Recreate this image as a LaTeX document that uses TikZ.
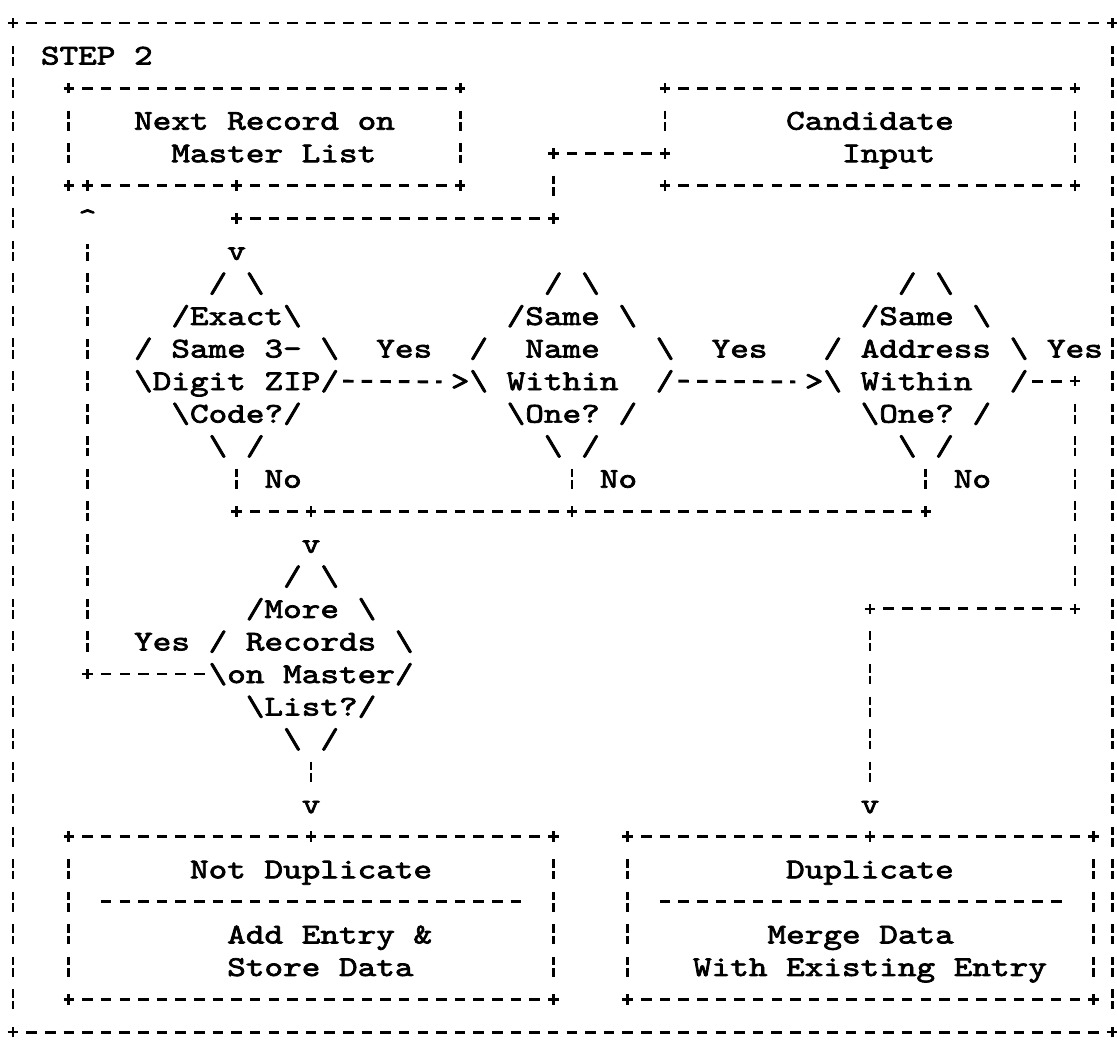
\documentclass[tikz,border=0pt]{standalone}
\usepackage{fontspec}
\newfontfamily\printfont{lmmono10-regular.otf}[FakeBold=2.5, FakeStretch=1.2376]
\begin{document}
\begin{tikzpicture}[x={(13.9725pt,0pt)}, y={(0pt,-24.4125pt)}]
\tikzset{
  chr/.style={font=\printfont\fontsize{21.5pt}{24.41pt}\selectfont, inner sep=0pt, outer sep=0pt},
  % a run of hyphens between two cells
  hrun/.style={line width=2.2pt, dash pattern=on 7.9pt off 6.07pt, dash phase=10.935pt,
               shorten <=6.986pt, shorten >=6.986pt},
  % a run of broken bars between two cells
  vrun/.style={line width=2.1pt, dash pattern=on 6.4pt off 2.25pt on 6.4pt off 9.36pt,
               dash phase=19.73pt, shorten <=12.206pt, shorten >=12.206pt},
  plus/.pic={\draw[line width=2.1pt] (-4pt,0pt) -- (4pt,0pt) (0pt,-4pt) -- (0pt,4pt);}
}
% glyph in a cell, text from a cell, junction mark
\newcommand\ch[3]{\node[chr,anchor=base] at (#1,#2+0.277) {#3};}
\newcommand\chn[4]{\node[chr,anchor=base] (#1) at (#2,#3+0.277) {#4};}
\newcommand\tx[4]{\node[chr,anchor=base west] (#1) at (#2-0.5,#3+0.277) {#4};}
\newcommand\jn[3]{\coordinate (#1) at (#2,#3); \pic at (#1) {plus};}
% decision outline made of slashes: centre column, top row
\newcommand\dmd[2]{%
  \foreach \k/\w in {0/1,1/3,2/5}{%
    \ch{#1-\w}{#2+\k}{/}\ch{#1+\w}{#2+\k}{\textbackslash}%
    \ch{#1-\w}{#2+5-\k}{\textbackslash}\ch{#1+\w}{#2+5-\k}{/}}}

\path[use as bounding box] (-9.75pt,17.25pt) rectangle (827.99pt,-769.5pt);

% ---- Next Record on Master List
\jn{nr-nw}{3}{2}\jn{nr-ne}{24}{2}\jn{nr-sw}{3}{5}\jn{nr-se}{24}{5}
\jn{loop-top}{4}{5}\jn{nr-s}{12}{5}
\draw[hrun] (nr-nw) -- (nr-ne);
\draw[vrun] (nr-nw) -- (nr-sw);
\draw[vrun] (nr-ne) -- (nr-se);
\draw[hrun] (loop-top) -- (nr-s);
\draw[hrun] (nr-s) -- (nr-se);
\tx{nr1}{7}{3}{Next Record on}
\tx{nr2}{9}{4}{Master List}

% ---- Candidate Input
\jn{ci-nw}{35}{2}\jn{ci-ne}{57}{2}\jn{ci-sw}{35}{5}\jn{ci-se}{57}{5}\jn{ci-w}{35}{4}
\draw[hrun] (ci-nw) -- (ci-ne);
\draw[hrun] (ci-sw) -- (ci-se);
\draw[vrun] (ci-nw) -- (ci-w);
\draw[vrun] (ci-ne) -- (ci-se);
\tx{ci1}{42}{3}{Candidate}
\tx{ci2}{45}{4}{Input}

% ---- input path into the first test
\jn{in1}{29}{4}\jn{in2}{29}{6}\jn{in3}{12}{6}
\draw[hrun] (ci-w) -- (in1);
\draw[vrun] (in1) -- (in2);
\draw[hrun] (in2) -- (in3);
\chn{zip-in}{12}{7}{v}

% ---- decision: same 3-digit ZIP code
\dmd{12}{8}
\tx{zip1}{10}{9}{Exact}
\tx{zip2}{9}{10}{Same 3-}
\tx{zip3}{8}{11}{Digit ZIP}
\tx{zip4}{10}{12}{Code?}
\coordinate (zip-e) at (17,11);
\coordinate (zip-s) at (12,13);

% ---- decision: same name within one
\dmd{30}{8}
\tx{nm1}{28}{9}{Same}
\tx{nm2}{28}{10}{Name}
\tx{nm3}{27}{11}{Within}
\tx{nm4}{28}{12}{One?}
\coordinate (nm-e) at (35,11);
\coordinate (nm-s) at (30,13);

% ---- decision: same address within one
\dmd{49}{8}
\tx{ad1}{47}{9}{Same}
\tx{ad2}{46}{10}{Address}
\tx{ad3}{46}{11}{Within}
\tx{ad4}{47}{12}{One?}
\coordinate (ad-e) at (54,11);
\coordinate (ad-s) at (49,13);

% ---- Yes branches
\chn{nm-in}{24}{11}{>}
\chn{ad-in}{43}{11}{>}
\draw[hrun] (zip-e) -- (nm-in);
\draw[hrun] (nm-e) -- (ad-in);
\tx{yes1}{20}{10}{Yes}
\tx{yes2}{38}{10}{Yes}
\tx{yes3}{56}{10}{Yes}

% ---- No branches merge
\jn{no1}{12}{15}\jn{no4}{16}{15}\jn{no2}{30}{15}\jn{no3}{49}{15}
\draw[vrun] (zip-s) -- (no1);
\draw[vrun] (nm-s) -- (no2);
\draw[vrun] (ad-s) -- (no3);
\draw[hrun] (no1) -- (no4);
\draw[hrun] (no4) -- (no2);
\draw[hrun] (no2) -- (no3);
\tx{no-a}{14}{14}{No}
\tx{no-b}{32}{14}{No}
\tx{no-c}{51}{14}{No}
\chn{mr-in}{16}{16}{v}

% ---- decision: more records on master list
\dmd{16}{17}
\tx{mr1}{14}{18}{More}
\tx{mr2}{13}{19}{Records}
\tx{mr3}{12}{20}{on Master}
\tx{mr4}{14}{21}{List?}
\coordinate (mr-w) at (11,20);
\coordinate (mr-s) at (16,22);

% ---- loop back to the next record
\jn{loop-bot}{4}{20}
\chn{loop-up}{4}{6}{\textasciicircum}
\draw[hrun] (mr-w) -- (loop-bot);
\draw[vrun] (loop-bot) -- (loop-up);
\tx{yes4}{7}{19}{Yes}

% ---- match path to Duplicate
\jn{dp1}{57}{11}\jn{dp2}{57}{18}\jn{dp3}{46}{18}
\draw[hrun] (ad-e) -- (dp1);
\draw[vrun] (dp1) -- (dp2);
\draw[hrun] (dp2) -- (dp3);
\chn{dp-in}{46}{24}{v}
\draw[vrun] (dp3) -- (dp-in);

% ---- Not Duplicate
\chn{nd-in}{16}{24}{v}
\draw[vrun] (mr-s) -- (nd-in);
\jn{nd-nw}{3}{25}\jn{nd-ne}{29}{25}\jn{nd-sw}{3}{30}\jn{nd-se}{29}{30}\jn{nd-n}{16}{25}
\draw[hrun] (nd-nw) -- (nd-n);
\draw[hrun] (nd-n) -- (nd-ne);
\draw[hrun] (nd-sw) -- (nd-se);
\draw[vrun] (nd-nw) -- (nd-sw);
\draw[vrun] (nd-ne) -- (nd-se);
\coordinate (nd-l) at (4,27);
\coordinate (nd-r) at (28,27);
\draw[hrun] (nd-l) -- (nd-r);
\tx{nd1}{10}{26}{Not Duplicate}
\tx{nd2}{12}{28}{Add Entry \&}
\tx{nd3}{12}{29}{Store Data}

% ---- Duplicate
\jn{du-nw}{33}{25}\jn{du-ne}{58}{25}\jn{du-sw}{33}{30}\jn{du-se}{58}{30}\jn{du-n}{46}{25}
\draw[hrun] (du-nw) -- (du-n);
\draw[hrun] (du-n) -- (du-ne);
\draw[hrun] (du-sw) -- (du-se);
\draw[vrun] (du-nw) -- (du-sw);
\draw[vrun] (du-ne) -- (du-se);
\coordinate (du-l) at (34,27);
\coordinate (du-r) at (57,27);
\draw[hrun] (du-l) -- (du-r);
\tx{du1}{42}{26}{Duplicate}
\tx{du2}{41}{28}{Merge Data}
\tx{du3}{37}{29}{With Existing Entry}

% ---- STEP 2 frame round everything
\jn{o-sw}{0}{31}\jn{o-se}{59}{31}\jn{o-nw}{0}{0}\jn{o-ne}{59}{0}
\draw[hrun] (o-sw) -- (o-se);
\draw[hrun] (o-nw) -- (o-ne);
\draw[vrun] (o-nw) -- (o-sw);
\draw[vrun] (o-ne) -- (o-se);
\tx{step}{2}{1}{STEP 2}
\end{tikzpicture}
\end{document}
